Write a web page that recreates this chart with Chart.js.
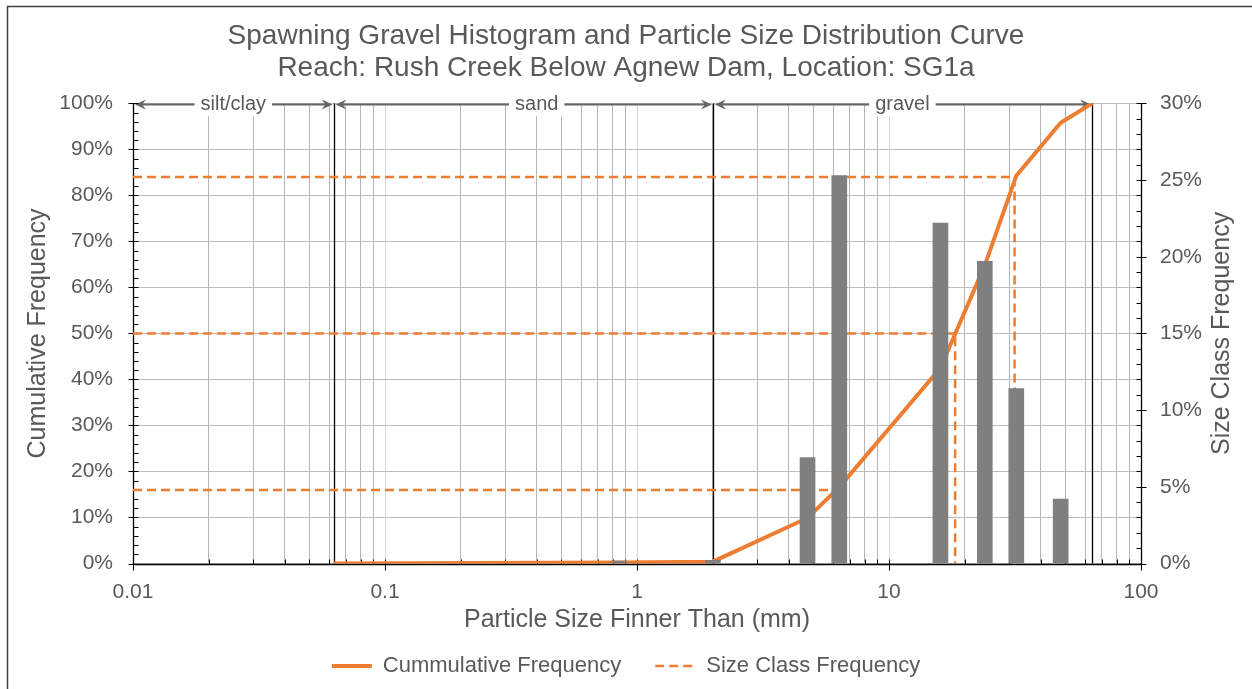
<!DOCTYPE html>
<html>
<head>
<meta charset="utf-8">
<script src="https://cdn.jsdelivr.net/npm/chart.js@4.4.1/dist/chart.umd.min.js"></script>
<style>
  html, body { margin: 0; padding: 0; background: #fff; }
  #wrap { width: 1252px; height: 689px; }
</style>
</head>
<body>
<div id="wrap"><canvas id="psdChart" width="1252" height="689"></canvas></div>
<script>
// Sieve sizes (mm) and cumulative percent finer
const cumSizes = [0.0625, 0.85, 2, 4.75, 6.35, 16, 24, 32, 48, 64];
const cumPercent = [0, 0.2, 0.4, 9.9, 16.6, 42.5, 64.8, 84.3, 95.8, 100];

// Histogram: percent in each size class
const binSizes = [0.85, 2, 4.75, 6.35, 16, 24, 32, 48];
const binPercent = [0.15, 0.2, 6.9, 25.3, 22.2, 19.7, 11.4, 4.2];

// D16 / D50 / D84
const dPercent = [16, 50, 84];
const dSizes = [6.0, 18.3, 31.5];

// Size classes shown along the top
const classNames = ['silt/clay', 'sand', 'gravel'];
const classBreaks = [0.01, 0.0625, 2, 64];
const classLabelAt = [0.025, 0.4, 11.3];

const xLabelValues = [0.01, 0.1, 1, 10, 100];

const ORANGE = '#ed7d31';
const GREY_BAR = '#7f7f7f';
const TEXT = '#595959';

Chart.defaults.font.family = '"Liberation Sans", Arial, sans-serif';
Chart.defaults.color = TEXT;

// all minor log ticks 0.01 .. 100
function buildLogTicks() {
    const out = [];
    [0.01, 0.1, 1, 10].forEach(d => {
        for (let m = 1; m <= 9; m++) out.push(Number((m * d).toFixed(4)));
    });
    out.push(100);
    return out;
}
const xTickList = buildLogTicks();

function isDecade(v) {
    return xLabelValues.some(d => Math.abs(d - v) < d * 1e-6);
}

// dashed guide lines, broken with null points
const dashPoints = [];
dPercent.forEach((p, i) => {
    dashPoints.push({ x: 0.01, y: p });
    dashPoints.push({ x: dSizes[i], y: p });
    dashPoints.push({ x: dSizes[i], y: 0 });
    dashPoints.push({ x: dSizes[i], y: null });
});

function drawArrowHead(ctx, x, y, dir) {
    // dir = 1 points right, -1 points left
    ctx.beginPath();
    ctx.moveTo(x, y);
    ctx.lineTo(x - dir * 11, y - 5);
    ctx.lineTo(x - dir * 7, y);
    ctx.lineTo(x - dir * 11, y + 5);
    ctx.closePath();
    ctx.fill();
}

const extrasPlugin = {
    id: 'psdExtras',
    beforeDatasetsDraw(chart) {
        const { ctx, chartArea, scales } = chart;
        const xs = scales.x, yl = scales.y, yr = scales.y2;
        ctx.save();

        // class boundary lines
        ctx.strokeStyle = '#000';
        ctx.lineWidth = 1.3;
        classBreaks.slice(1).forEach(b => {
            const px = Math.round(xs.getPixelForValue(b)) + 0.5;
            ctx.beginPath();
            ctx.moveTo(px, chartArea.top);
            ctx.lineTo(px, chartArea.bottom);
            ctx.stroke();
        });

        // arrows + class labels on the top edge
        const ay = chartArea.top + 1;
        ctx.strokeStyle = '#666';
        ctx.fillStyle = '#666';
        ctx.lineWidth = 2;
        for (let i = 0; i < classNames.length; i++) {
            const x1 = xs.getPixelForValue(classBreaks[i]) + 2;
            const x2 = xs.getPixelForValue(classBreaks[i + 1]) - 1;
            ctx.beginPath();
            ctx.moveTo(x1 + 4, ay);
            ctx.lineTo(x2 - 4, ay);
            ctx.stroke();
            drawArrowHead(ctx, x1, ay, -1);
            drawArrowHead(ctx, x2, ay, 1);
        }
        ctx.font = '20px "Liberation Sans", Arial, sans-serif';
        ctx.textAlign = 'center';
        ctx.textBaseline = 'middle';
        classNames.forEach((name, i) => {
            const cx = xs.getPixelForValue(classLabelAt[i]);
            const w = ctx.measureText(name).width + 12;
            ctx.fillStyle = '#fff';
            ctx.fillRect(cx - w / 2, ay - 12, w, 24);
            ctx.fillStyle = TEXT;
            ctx.fillText(name, cx, ay);
        });

        // axes lines and tick marks
        ctx.strokeStyle = '#000';
        ctx.lineWidth = 1.3;
        const L = Math.round(chartArea.left) + 0.5;
        const R = Math.round(chartArea.right) + 0.5;
        const B = Math.round(chartArea.bottom) + 0.5;
        ctx.beginPath();
        ctx.moveTo(L, chartArea.top); ctx.lineTo(L, B);
        ctx.moveTo(R, chartArea.top); ctx.lineTo(R, B);
        ctx.moveTo(L, B); ctx.lineTo(R, B);
        ctx.stroke();

        ctx.lineWidth = 1;
        ctx.beginPath();
        for (let v = 0; v <= 100; v += 2) {
            const py = Math.round(yl.getPixelForValue(v)) + 0.5;
            ctx.moveTo(v % 10 === 0 ? L - 5 : L, py);
            ctx.lineTo(L + 5, py);
        }
        for (let v = 0; v <= 30; v += 1) {
            const py = Math.round(yr.getPixelForValue(v)) + 0.5;
            ctx.moveTo(R - 5, py);
            ctx.lineTo(v % 5 === 0 ? R + 5 : R, py);
        }
        xTickList.forEach(v => {
            const px = Math.round(xs.getPixelForValue(v)) + 0.5;
            ctx.moveTo(px, B - 5);
            ctx.lineTo(px, isDecade(v) ? B + 6 : B);
        });
        ctx.stroke();
        ctx.restore();
    },
    afterDraw(chart) {
        const { ctx, chartArea } = chart;
        ctx.save();
        // right axis title, reading bottom to top like the left one
        ctx.font = '25px "Liberation Sans", Arial, sans-serif';
        ctx.fillStyle = TEXT;
        ctx.textAlign = 'center';
        ctx.textBaseline = 'middle';
        ctx.translate(1222, (chartArea.top + chartArea.bottom) / 2);
        ctx.rotate(-Math.PI / 2);
        ctx.fillText('Size Class Frequency', 0, 0);
        ctx.restore();

        // outer frame (left and top edges)
        ctx.save();
        ctx.strokeStyle = '#404040';
        ctx.lineWidth = 1.5;
        ctx.beginPath();
        ctx.moveTo(7.5, 689);
        ctx.lineTo(7.5, 6.5);
        ctx.lineTo(1252, 6.5);
        ctx.stroke();
        ctx.restore();
    }
};

// legend entries drawn as line samples (solid / dashed)
function legendItems(chart) {
    return chart.data.datasets
        .map((ds, i) => ({
            text: ds.label,
            datasetIndex: i,
            strokeStyle: ds.borderColor,
            fillStyle: ds.borderColor,
            lineWidth: ds.borderWidth,
            lineDash: ds.borderDash || [],
            lineCap: 'butt',
            pointStyle: 'line',
            fontColor: TEXT,
            hidden: false
        }))
        .filter(item => item.text !== 'Size Class');
}

const ctx = document.getElementById('psdChart').getContext('2d');
new Chart(ctx, {
    type: 'bar',
    data: {
        datasets: [
            {
                type: 'bar',
                label: 'Size Class',
                data: binSizes.map((s, i) => ({ x: s, y: binPercent[i] })),
                backgroundColor: GREY_BAR,
                barThickness: 15,
                yAxisID: 'y2',
                order: 0
            },
            {
                type: 'line',
                label: 'Cummulative Frequency',
                data: cumSizes.map((s, i) => ({ x: s, y: cumPercent[i] })),
                borderColor: ORANGE,
                backgroundColor: ORANGE,
                borderWidth: 4,
                pointRadius: 0,
                tension: 0,
                yAxisID: 'y',
                order: 2
            },
            {
                type: 'line',
                label: 'Size Class Frequency',
                data: dashPoints,
                borderColor: ORANGE,
                backgroundColor: ORANGE,
                borderWidth: 2.5,
                borderDash: [9, 5],
                pointRadius: 0,
                spanGaps: false,
                yAxisID: 'y',
                order: 1
            }
        ]
    },
    options: {
        responsive: false,
        animation: false,
        devicePixelRatio: 1,
        layout: { padding: { left: 0, right: 0, top: 0, bottom: 2 } },
        plugins: {
            title: {
                display: true,
                text: ['Spawning Gravel Histogram and Particle Size Distribution Curve',
                       'Reach: Rush Creek Below Agnew Dam, Location: SG1a'],
                color: TEXT,
                font: { size: 28, weight: 'normal', lineHeight: 1.15 },
                padding: { top: 20, bottom: 19 }
            },
            legend: {
                position: 'bottom',
                labels: {
                    color: TEXT,
                    font: { size: 22 },
                    usePointStyle: true,
                    pointStyleWidth: 40,
                    padding: 34,
                    generateLabels: legendItems
                }
            },
            tooltip: { enabled: false }
        },
        scales: {
            x: {
                type: 'logarithmic',
                position: 'bottom',
                min: 0.01,
                max: 100,
                offset: false,
                afterBuildTicks: scale => {
                    scale.ticks = xTickList.map(v => ({ value: v }));
                },
                afterFit: scale => {
                    scale.height = 619.5 - 562;
                },
                ticks: {
                    autoSkip: false,
                    maxRotation: 0,
                    padding: 16,
                    font: { size: 21 },
                    callback: v => (isDecade(v) ? String(v) : '')
                },
                grid: {
                    offset: false,
                    drawTicks: false,
                    color: c => (c.tick && isDecade(c.tick.value) ? '#d6d6d6' : '#b5b5b5')
                },
                border: { display: false },
                title: {
                    display: true,
                    text: 'Particle Size Finner Than (mm)',
                    font: { size: 25 },
                    padding: { top: 0, bottom: -14 }
                }
            },
            y: {
                position: 'left',
                min: 0,
                max: 100,
                afterFit: scale => { scale.width = 133; },
                ticks: {
                    stepSize: 10,
                    padding: 20,
                    font: { size: 21 },
                    callback: v => v + '%'
                },
                grid: { drawTicks: false, color: '#bdbdbd' },
                border: { display: false },
                title: {
                    display: true,
                    text: 'Cumulative Frequency',
                    font: { size: 25 },
                    padding: { top: 23, bottom: 0 }
                }
            },
            y2: {
                position: 'right',
                min: 0,
                max: 30,
                afterFit: scale => { scale.width = 111; },
                ticks: {
                    stepSize: 5,
                    padding: 19,
                    font: { size: 21 },
                    callback: v => v + '%'
                },
                grid: { drawOnChartArea: false, drawTicks: false },
                border: { display: false }
            }
        }
    },
    plugins: [extrasPlugin]
});
</script>
</body>
</html>
